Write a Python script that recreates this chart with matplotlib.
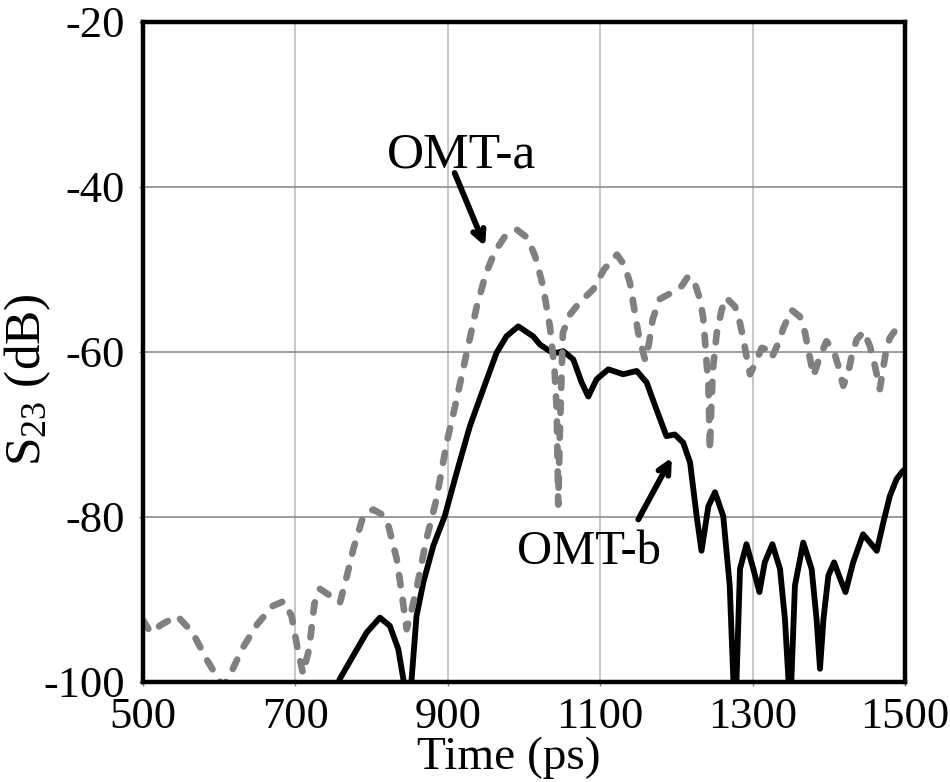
import matplotlib
matplotlib.use("Agg")
import matplotlib.pyplot as plt

# Time-domain S23 of the two OMT designs
time_a = [500, 510, 525, 545, 565, 585, 600, 606, 615, 630, 650, 670, 685, 695, 703,
          710, 718, 725, 732, 745, 758.5, 768, 776, 789, 802, 812, 820, 833, 840, 846,
          852, 859, 872, 885, 898.6, 911.7, 924.8, 938, 950, 962, 975, 991, 1005,
          1015, 1025, 1034, 1040, 1043, 1045, 1047, 1051, 1060, 1073, 1091, 1105, 1122,
          1132, 1139, 1150, 1159, 1164, 1169, 1178, 1196, 1207, 1215.6, 1224, 1231,
          1235, 1237.5, 1240, 1242, 1244, 1246, 1248.4, 1253, 1259.4, 1265, 1277,
          1283.5, 1288, 1292, 1296.6, 1303, 1312, 1318.5, 1325, 1334, 1340.5, 1351,
          1362, 1369, 1373, 1380, 1388.5, 1397, 1406, 1412.5, 1419, 1425.6, 1430,
          1436.6, 1446, 1454, 1460.6, 1467, 1474, 1480, 1491, 1500]
s23_a = [-92.5, -94, -93, -92, -94, -97.5, -99.8, -100.5, -99, -96, -93, -90.8, -90.2,
         -92, -96, -99, -96, -90.5, -88.7, -89.5, -90.4, -87, -83.9, -79.9, -79.1,
         -79.6, -80.3, -85.1, -89.5, -93.6, -91.5, -88.7, -82.7, -77.9, -71, -65.7,
         -60.1, -54.5, -50.5, -47.8, -46, -45.2, -46.2, -48.5, -52, -56.9, -62, -67,
         -78.5, -70, -57.7, -55.5, -54, -52.4, -50, -48.2, -49.5, -51.6, -57.7, -61,
         -59, -56, -53.6, -52.7, -52, -50.8, -51.6, -53.6, -55.7, -58.5, -61.7, -63.7,
         -72, -66, -61.7, -57.7, -54.9, -53.4, -54.5, -56.5, -58.5, -60.5, -62.7,
         -61.5, -59.5, -59.7, -60.7, -58.9, -57.1, -54.9, -55.7, -57.7, -59.7, -62.9,
         -60.5, -58.7, -59.7, -61.7, -64.1, -62.5, -60.5, -58.5, -57.5, -59.3, -61.7,
         -64.5, -60.5, -58.3, -56.9, -57.4]

time_b = [750, 758.5, 776, 793.6, 811, 824, 835, 841.6, 847, 852.6, 859, 868, 881, 896,
          911.7, 929, 946.6, 964, 977, 992.5, 1012, 1021, 1034, 1043, 1051.6, 1064.7,
          1075.7, 1084.4, 1095.4, 1110.7, 1130, 1148, 1161, 1174, 1187, 1198, 1209,
          1218, 1226.6, 1233, 1242, 1250.7, 1261.5, 1270, 1274.7, 1277, 1279, 1283.5,
          1292, 1301, 1309, 1316, 1326, 1336, 1342.5, 1347, 1349, 1351, 1355.6, 1366.5,
          1377.5, 1384, 1388.5, 1393, 1399.5, 1407, 1415, 1422, 1432, 1445, 1456, 1463,
          1471.5, 1480, 1489, 1495.6, 1500]
s23_b = [-101.5, -99.6, -96.8, -94, -92.2, -93.2, -96, -99.6, -103, -99.6, -92, -87.9,
         -83.5, -79.9, -74.6, -69, -64.5, -60.1, -58.1, -56.9, -58.1, -59.1, -59.9,
         -60.1, -59.9, -60.9, -63.7, -65.4, -63.3, -62.1, -62.7, -62.3, -63.7, -67,
         -70.2, -70, -71, -73.4, -79.9, -84.1, -78.7, -77, -79.9, -88.3, -99.6, -108,
         -99.6, -86.3, -83.3, -86.3, -89.1, -85.5, -83.3, -86.3, -92.4, -99.6, -108,
         -99.6, -88.3, -83.1, -86.3, -92.4, -98.4, -92.4, -87.1, -85.5, -87.5, -89.1,
         -85.5, -82.1, -83.3, -84.1, -80.7, -77.5, -75.4, -74.6, -74.2]

x_ticks = [500, 700, 900, 1100, 1300, 1500]
y_ticks = [-100, -80, -60, -40, -20]

plt.rcParams['font.family'] = ['Liberation Serif', 'DejaVu Serif']
plt.rcParams['mathtext.fontset'] = 'custom'
plt.rcParams['mathtext.rm'] = 'Liberation Serif'
plt.rcParams['mathtext.it'] = 'Liberation Serif:italic'
plt.rcParams['axes.unicode_minus'] = False

fig = plt.figure(figsize=(9.5, 7.82), dpi=100)
ax = fig.add_axes([0.1505, 0.1279, 0.8021, 0.844])

# grid
for xv in x_ticks[1:-1]:
    ax.axvline(xv, color='#bdbdbd', lw=1.2, zorder=0)
for yv in y_ticks[1:-1]:
    ax.axhline(yv, color='#8c8c8c', lw=1.2, zorder=0)

ax.plot(time_b, s23_b, color='black', lw=4.2, solid_joinstyle='round',
        solid_capstyle='round', zorder=2)
ax.plot(time_a, s23_a, color='#808080', lw=4.8, linestyle=(0, (1.55, 2.2)),
        dash_capstyle='round', dash_joinstyle='round', zorder=3)

ax.set_xlim(500, 1500)
ax.set_ylim(-100, -20)
ax.set_xticks(x_ticks)
ax.set_yticks(y_ticks)
ax.tick_params(axis='both', labelsize=32, length=3, width=1, color='#808080',
               direction='out')
ax.tick_params(axis='x', pad=8)
ax.tick_params(axis='y', pad=10)
for sp in ax.spines.values():
    sp.set_linewidth(3.2)
    sp.set_color('black')
    sp.set_zorder(5)

ax.set_xlabel('Time (ps)', fontsize=34)
ax.xaxis.set_label_coords(0.48, -0.083)
ax.set_ylabel(r'S$_{23}$ (dB)', fontsize=37)
ax.yaxis.set_label_coords(-0.118, 0.458)

arrow = dict(arrowstyle='->,head_length=0.8,head_width=0.4', lw=4.2, color='black',
             shrinkA=0, shrinkB=0)
ax.annotate('', xy=(949, -47.2), xytext=(909, -38.3), arrowprops=arrow, zorder=4)
ax.text(918, -36.2, 'OMT-a', fontsize=37, ha='center', va='center', zorder=4)
ax.annotate('', xy=(1194, -72.8), xytext=(1150, -80.3), arrowprops=arrow, zorder=4)
ax.text(1085, -84.3, 'OMT-b', fontsize=35, ha='center', va='center', zorder=4)

fig.savefig('out.png', dpi=100)
